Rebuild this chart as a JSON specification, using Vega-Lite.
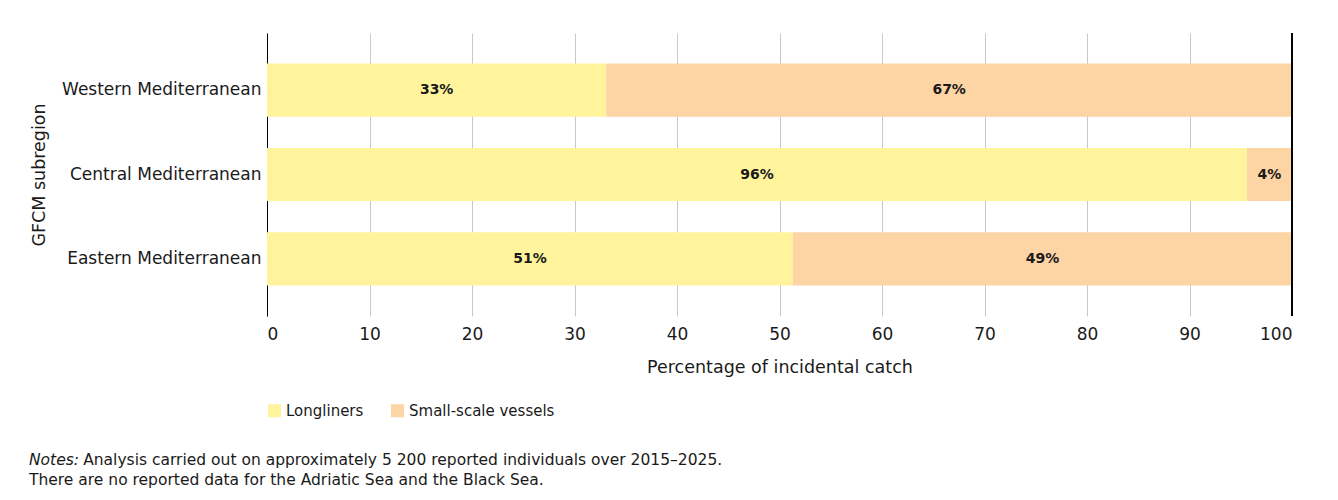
{
  "$schema": "https://vega.github.io/schema/vega-lite/v6.json",
  "width": 1025,
  "height": 283,
  "autosize": {"type": "none"},
  "padding": {"left": 267, "top": 33, "right": 46, "bottom": 184},
  "background": "white",
  "config": {
    "font": "DejaVu Sans",
    "view": {"stroke": null},
    "axis": {"labelColor": "#1a1a1a", "titleColor": "#1a1a1a", "titleFontWeight": "normal"}
  },
  "title": {
    "text": "Notes:",
    "subtitle": ["\u200d\u00a0\u00a0\u00a0\u00a0\u00a0\u00a0\u00a0\u00a0\u00a0\u00a0\u00a0Analysis carried out on approximately 5 200 reported individuals over 2015–2025.", "There are no reported data for the Adriatic Sea and the Black Sea."],
    "orient": "bottom",
    "anchor": "start",
    "frame": "bounds",
    "fontStyle": "italic",
    "fontWeight": "normal",
    "fontSize": 15.5,
    "subtitleFontSize": 15.5,
    "subtitlePadding": -15.5,
    "subtitleLineHeight": 20,
    "subtitleColor": "#1a1a1a",
    "color": "#1a1a1a",
    "offset": 34,
    "dx": -1
  },
  "data": {
    "values": [
      {"region": "Western Mediterranean", "type": "Longliners", "pct": 33.1, "label": "33%"},
      {"region": "Western Mediterranean", "type": "Small-scale vessels", "pct": 66.9, "label": "67%"},
      {"region": "Central Mediterranean", "type": "Longliners", "pct": 95.6, "label": "96%"},
      {"region": "Central Mediterranean", "type": "Small-scale vessels", "pct": 4.4, "label": "4%"},
      {"region": "Eastern Mediterranean", "type": "Longliners", "pct": 51.3, "label": "51%"},
      {"region": "Eastern Mediterranean", "type": "Small-scale vessels", "pct": 48.7, "label": "49%"}
    ]
  },
  "layer": [
    {
      "mark": {"type": "bar"},
      "encoding": {
        "y": {
          "field": "region",
          "type": "nominal",
          "sort": ["Western Mediterranean", "Central Mediterranean", "Eastern Mediterranean"],
          "scale": {"paddingInner": 0.37, "paddingOuter": 0.36},
          "axis": {
            "title": "GFCM subregion",
            "titleFontSize": 17.5,
            "titlePadding": 19,
            "labelFontSize": 17,
            "labelPadding": 6,
            "labelLimit": 0,
            "ticks": false,
            "domainColor": "#000000",
            "domainWidth": 1
          }
        },
        "x": {
          "field": "pct",
          "type": "quantitative",
          "stack": "zero",
          "scale": {"domain": [0, 100], "nice": false},
          "axis": {
            "title": "Percentage of incidental catch",
            "titleFontSize": 17.5,
            "titlePadding": 16,
            "labelFontSize": 17,
            "labelPadding": 10,
            "values": [0, 10, 20, 30, 40, 50, 60, 70, 80, 90, 100],
            "grid": true,
            "gridColor": "#c8c8c8",
            "gridWidth": 1,
            "domain": false,
            "ticks": false
          }
        },
        "color": {
          "field": "type",
          "type": "nominal",
          "scale": {"domain": ["Longliners", "Small-scale vessels"], "range": ["#fff49c", "#fdd4a4"]},
          "legend": {
            "title": null,
            "orient": "bottom",
            "direction": "horizontal",
            "symbolType": "square",
            "symbolSize": 170,
            "symbolStrokeWidth": 0,
            "labelFontSize": 15,
            "labelColor": "#1a1a1a",
            "columnPadding": 26,
            "offset": 27
          }
        },
        "order": {"field": "type", "sort": "ascending"}
      }
    },
    {
      "mark": {"type": "text", "fontWeight": "bold", "fontSize": 14, "color": "#1a1a1a"},
      "encoding": {
        "y": {
          "field": "region",
          "type": "nominal",
          "sort": ["Western Mediterranean", "Central Mediterranean", "Eastern Mediterranean"]
        },
        "x": {"field": "pct", "type": "quantitative", "stack": "zero", "bandPosition": 0.5},
        "text": {"field": "label"},
        "detail": {"field": "type"},
        "order": {"field": "type", "sort": "ascending"}
      }
    },
    {
      "mark": {"type": "rule", "color": "#000000", "strokeWidth": 1},
      "encoding": {"x": {"datum": 100}}
    }
  ]
}
